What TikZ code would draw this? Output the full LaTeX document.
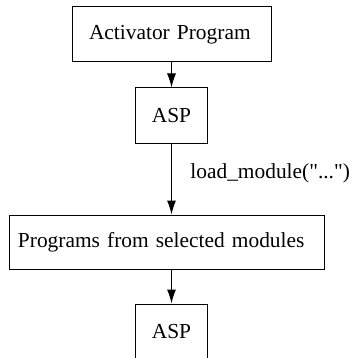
\documentclass[tikz,border=0pt]{standalone}
\usepackage{fontspec}
\setmainfont{Liberation Serif}[Ligatures=TeXOff]
\usetikzlibrary{arrows.meta}
\begin{document}
\begin{tikzpicture}[x=0.5pt,y=-0.5pt,
  box/.style={draw,line width=0.5pt,inner sep=0pt,font=\fontsize{10.7}{12}\selectfont},
  lbox/.style={box,align=left,inner xsep=#1},
  flow/.style={draw,line width=0.5pt,-{Latex[length=7pt,width=4.5pt]}},
  lbl/.style={font=\fontsize{10.7}{12}\selectfont,inner sep=0pt}]
  \useasboundingbox (0,0) rectangle (352,358);
  \clip (0,0) rectangle (352,358);
  \node[lbox=8.5pt,text width=82.5pt,minimum height=27.5pt] (act) at (171.5,34.5) {Activator Program};
  \node[box,minimum width=36pt,minimum height=27.5pt] (asp1) at (171.5,115.5) {ASP};
  \node[lbox=4.5pt,text width=148.5pt,minimum height=27pt] (prog) at (166.5,242) {Programs from selected modules};
  \node[box,minimum width=36pt,minimum height=27.5pt] (asp2) at (171.5,331.5) {ASP};
  \draw[flow] (act.south -| asp1.north) -- (asp1.north);
  \draw[flow] (asp1.south) -- (asp1.south |- prog.north);
  \draw[flow] (asp1.south |- prog.south) -- (asp2.north);
  \node[lbl,anchor=west] (lm) at (190,173) {load\_module("...")};
\end{tikzpicture}
\end{document}
